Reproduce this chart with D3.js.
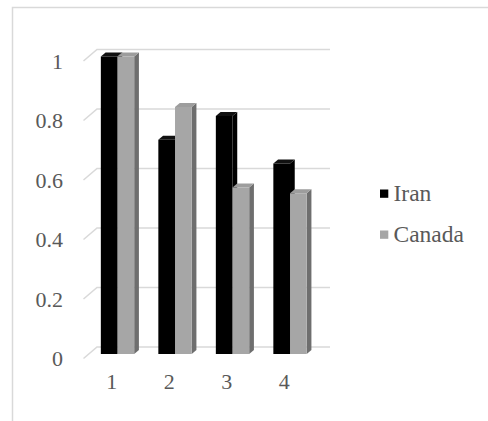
<!DOCTYPE html>
<html><head><meta charset="utf-8"><script src="https://cdn.jsdelivr.net/npm/d3@7"></script></head>
<body style="margin:0;background:#fff">
<svg id="chart" width="488" height="421" style="display:block;font-family:'Liberation Serif','Times New Roman',Tinos"></svg>
<script>
// Category labels along the floor
const categories = ["1", "2", "3", "4"];
// Series and their values per category
const seriesNames = ["Iran", "Canada"];
const iranValues = [1.0, 0.72, 0.80, 0.64];
const canadaValues = [1.0, 0.83, 0.56, 0.54];
// Value axis ticks
const yTicks = [0, 0.2, 0.4, 0.6, 0.8, 1];

const seriesValues = [iranValues, canadaValues];
const palette = {
  Iran:   { front: "#000000", side: "#000000", top: "#111111" },
  Canada: { front: "#a6a6a6", side: "#6e6e6e", top: "#9d9d9d" }
};
const FONT = '"Liberation Serif", "Times New Roman", Tinos';
const TEXT_COLOR = "#595959";

const svg = d3.select("#chart");
const W = 488, H = 421;

// Outer frame of the chart area (left and top edges visible)
svg.append("path")
  .attr("d", `M12.5,${H} L12.5,7.5 L${W},7.5`)
  .attr("fill", "none").attr("stroke", "#d9d9d9").attr("stroke-width", 1.5);

// Oblique 3D projection: front floor plane + depth vector
const DX = 13.5, DY = -11.5;
const x = d3.scaleBand().domain(categories).range([83.5, 313.5]).paddingInner(0.42).paddingOuter(0.21);
const xs = d3.scaleBand().domain(seriesNames).range([0, x.bandwidth()]);
const y = d3.scaleLinear().domain([0, 1]).range([358.5, 61]);
const proj = (px, v, d) => [px + d * DX, y(v) + d * DY];

const wallRight = 316.5 + DX;

// Gridlines: back wall horizontals and side-wall diagonals
const grid = svg.append("g").attr("stroke", "#d9d9d9").attr("stroke-width", 1.5).attr("fill", "none");
yTicks.forEach(t => {
  const f = proj(83.5, t, 0), b = proj(83.5, t, 1);
  grid.append("path").attr("d", `M${f[0]},${f[1]} L${b[0]},${b[1]} L${wallRight},${b[1]}`);
});

// Value axis labels
svg.append("g").selectAll("text").data(yTicks).join("text")
  .attr("x", 63).attr("y", d => y(d))
  .attr("dy", "0.35em")
  .attr("text-anchor", "end")
  .style("font-family", FONT).style("font-size", "22px")
  .attr("fill", TEXT_COLOR)
  .text(d => d3.format("~g")(d));

// Category labels
svg.append("g").selectAll("text").data(categories).join("text")
  .attr("x", d => x(d) + x.bandwidth() / 2 - 0.5)
  .attr("y", 389)
  .attr("text-anchor", "middle")
  .style("font-family", FONT).style("font-size", "22px")
  .attr("fill", TEXT_COLOR)
  .text(d => d);

// 3D bars: side face, top face, front face
const D0 = 0.39, D1 = 0.74;
const pts = arr => arr.map(p => p.join(",")).join(" ");
const bars = svg.append("g");
categories.forEach((c, ci) => {
  seriesNames.forEach((s, si) => {
    const v = seriesValues[si][ci];
    const x0 = x(c) + xs(s), x1 = x0 + xs.bandwidth();
    const col = palette[s];
    const g = bars.append("g");
    const fbl = proj(x0, 0, D0), ftl = proj(x0, v, D0), ftr = proj(x1, v, D0), fbr = proj(x1, 0, D0);
    const btl = proj(x0, v, D1), btr = proj(x1, v, D1), bbr = proj(x1, 0, D1);
    g.append("polygon").attr("points", pts([fbr, ftr, btr, bbr])).attr("fill", col.side);
    g.append("polygon").attr("points", pts([ftl, btl, btr, ftr])).attr("fill", col.top);
    g.append("polygon").attr("points", pts([fbl, ftl, ftr, fbr])).attr("fill", col.front);
  });
});

// Legend
const legend = svg.append("g");
seriesNames.forEach((s, i) => {
  const yy = 189.5 + i * 41;
  legend.append("rect").attr("x", 380).attr("y", yy).attr("width", 8.3).attr("height", 8.3)
    .attr("fill", palette[s].front);
  legend.append("text").attr("x", 393.5).attr("y", yy + 11.5)
    .style("font-family", FONT).style("font-size", "23.5px")
    .attr("fill", TEXT_COLOR)
    .text(s);
});
</script>
</body>
</html>
